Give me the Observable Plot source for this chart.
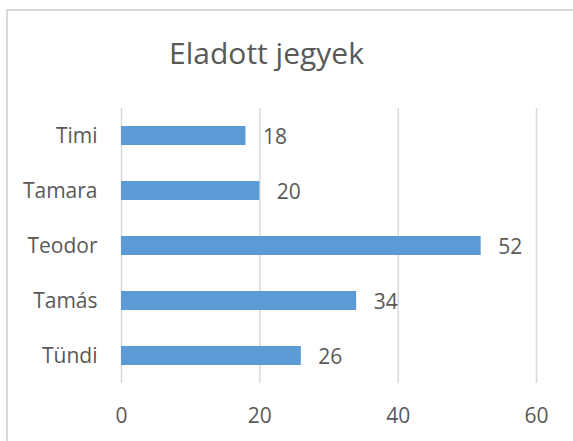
<!DOCTYPE html>
<html>
<head>
<meta charset="utf-8">
<script src="https://cdn.jsdelivr.net/npm/d3@7"></script>
<script src="https://cdn.jsdelivr.net/npm/@observablehq/plot@0.6"></script>
<style>
  html, body { margin: 0; padding: 0; background: #fff; overflow: hidden; width: 573px; height: 441px; }
  #wrap { position: relative; width: 573px; height: 441px; font-family: "Open Sans", sans-serif; color: #595959; }
  #frame { position: absolute; left: 6px; top: 9px; width: 700px; height: 600px; border-left: 2px solid #d9d9d9; border-top: 2px solid #d9d9d9; box-sizing: border-box; }
  #title { position: relative; height: 100px; }
  #title span { position: absolute; left: 0; width: 533px; top: 38px; text-align: center; font-size: 30px; line-height: 30px; color: #595959; }
  #chart { position: relative; }
</style>
</head>
<body>
<div id="wrap">
  <div id="frame"></div>
  <div id="title"><span>Eladott jegyek</span></div>
  <div id="chart"></div>
</div>
<script>
const names = ["Timi", "Tamara", "Teodor", "Tamás", "Tündi"];
const values = [18, 20, 52, 34, 26];
const xTicks = [0, 20, 40, 60];

const data = names.map((n, i) => ({name: n, value: values[i]}));

const plot = Plot.plot({
  width: 573,
  height: 341,
  marginTop: 8,
  marginBottom: 58,
  marginLeft: 121,
  marginRight: 37,
  style: {fontFamily: "Open Sans, sans-serif", fontSize: "21px", color: "#595959", background: "transparent", overflow: "visible"},
  x: {domain: [0, 60]},
  y: {domain: names, padding: 0},
  marks: [
    Plot.ruleX(xTicks, {stroke: "#d9d9d9", strokeWidth: 1.5}),
    Plot.barX(data, {x: "value", y: "name", fill: "#5b9bd5", insetTop: 18, insetBottom: 18}),
    Plot.text(data, {x: "value", y: "name", text: d => String(d.value), dx: 17, dy: 1, textAnchor: "start", fill: "#595959", fontSize: 21}),
    Plot.axisX({ticks: xTicks, tickSize: 0, tickPadding: 25, label: null, fontSize: 21}),
    Plot.axisY({tickSize: 0, tickPadding: 24, label: null, fontSize: 21})
  ]
});
document.getElementById("chart").appendChild(plot);
</script>
</body>
</html>
